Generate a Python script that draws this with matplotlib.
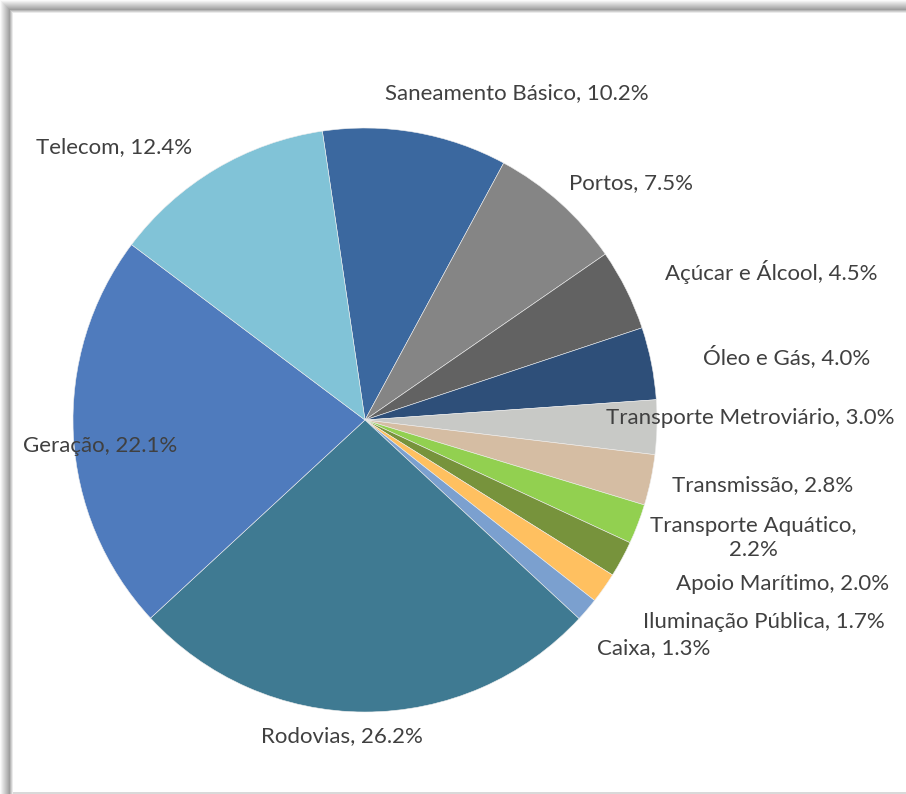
import matplotlib.pyplot as plt
from matplotlib.patches import Rectangle

plt.rcParams['font.family'] = ['Lato', 'DejaVu Sans']

labels = ['Saneamento Básico', 'Portos', 'Açúcar e Álcool', 'Óleo e Gás',
          'Transporte Metroviário', 'Transmissão', 'Transporte Aquático',
          'Apoio Marítimo', 'Iluminação Pública', 'Caixa', 'Rodovias',
          'Geração', 'Telecom']
shares = [10.2, 7.5, 4.5, 4.0, 3.0, 2.8, 2.2, 2.0, 1.7, 1.3, 26.2, 22.1, 12.4]
colors = ['#3B689F', '#858585', '#626262', '#2E4F79', '#C8C9C6', '#D5BDA3',
          '#92D050', '#77933C', '#FFC060', '#7BA0CF', '#3F7A92', '#4F7BBD',
          '#81C3D7']

# label anchor points in pixels (x from left, y from top)
label_pos = [(517, 93), (631, 183), (771, 272), (787, 357), (750, 418),
             (763, 485), (753, 538), (783, 584), (764, 622), (654, 648),
             (342, 736), (100, 446), (114, 147)]

W, H = 906, 794
fig = plt.figure(figsize=(W / 100, H / 100), dpi=100)
ax = fig.add_axes([0, 0, 1, 1])
ax.set_xlim(0, W)
ax.set_ylim(0, H)
ax.axis('off')

# frame with soft shadow on top/left
for i in range(13):
    g = 0.62 + 0.36 * (abs(i - 9) / 9.0) if i <= 9 else 0.62 + 0.1 * (i - 9)
    g = min(g, 0.98)
    ax.add_patch(Rectangle((i, 0), 1, H - i, color=str(g), lw=0))
    ax.add_patch(Rectangle((i, H - i - 1), W - i, 1, color=str(g), lw=0))
ax.add_patch(Rectangle((13, 2), W - 13, H - 15, facecolor='white',
                       edgecolor='none'))
ax.add_patch(Rectangle((13, 0), W - 13, 2, color='#D9D9D9', lw=0))

ax.pie(shares, colors=colors, startangle=98.4, counterclock=False,
       center=(365, H - 420), radius=292, frame=True,
       wedgeprops=dict(linewidth=0.4, edgecolor='#EEEEEE'))
ax.set_xlim(0, W)
ax.set_ylim(0, H)
ax.set_aspect('equal')
ax.axis('off')

for name, val, (x, y) in zip(labels, shares, label_pos):
    txt = f'{name}, {val:.1f}%'
    if name == 'Transporte Aquático':
        txt = f'{name},\n{val:.1f}%'
    ax.text(x, H - y, txt, ha='center', va='center', fontsize=16,
            color='#404040', linespacing=1.3)

fig.savefig('out.png', dpi=100)
